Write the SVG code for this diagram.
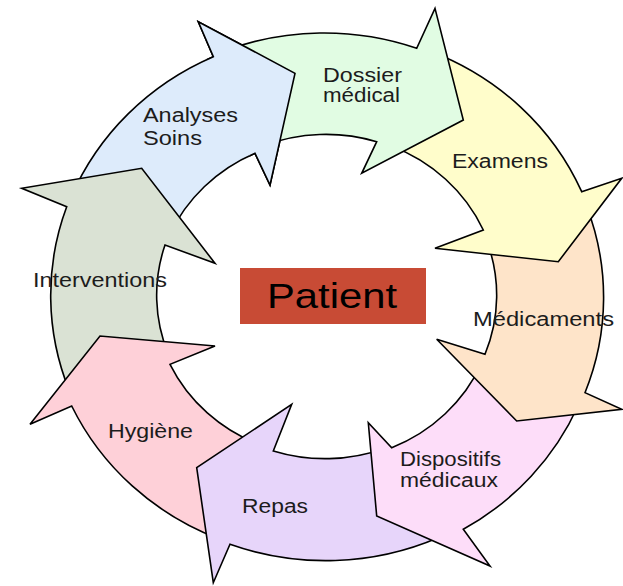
<svg xmlns="http://www.w3.org/2000/svg" xmlns:xlink="http://www.w3.org/1999/xlink" width="623" height="586" viewBox="0 0 623 586">
<style>
.seg{stroke:#000;stroke-width:1.6;stroke-linejoin:miter}
.lbl{font-family:"Liberation Sans",Arial,sans-serif;font-size:20px;fill:#1c1c1c}
.big{font-family:"Liberation Sans",Arial,sans-serif;font-size:35px;fill:#000}
</style>
<defs>
<clipPath id="clipA"><polygon points="190,0 330,0 330,200 255,200 242,100 190,40"/></clipPath>
</defs>
<rect width="623" height="586" fill="#fff"/>
<g id="nodes">
<g id="analyses">
<path id="shapeA" class="seg" fill="#DDEBFB" d="M71.1,197.1 A276,264 0 0 1 213.3,56.7 L198.3,21.7 L295,73.3 L270,185 L255,153.3 A170,162 0 0 0 169.4,235.3 Z"/>
<text class="lbl" x="143" y="122" textLength="95" lengthAdjust="spacingAndGlyphs">Analyses</text>
<text class="lbl" x="143" y="145" textLength="59" lengthAdjust="spacingAndGlyphs">Soins</text>
</g>
<g id="interventions">
<path class="seg" fill="#DAE2D4" d="M69.3,390.6 A276,264 0 0 1 66.7,206.7 L21.7,188.3 L141.7,168.3 L215,263.3 L165,245 A170,162 0 0 0 168.3,354.1 Z"/>
<text class="lbl" x="33" y="287" textLength="134" lengthAdjust="spacingAndGlyphs">Interventions</text>
</g>
<g id="hygiene">
<path class="seg" fill="#FED0D8" d="M219.2,539 A276,264 0 0 1 71.7,406 L30,424.3 L100,336 L215,346 L170,364.3 A170,162 0 0 0 260.6,445.1 Z"/>
<text class="lbl" x="108" y="438" textLength="85" lengthAdjust="spacingAndGlyphs">Hygiène</text>
</g>
<g id="repas">
<path class="seg" fill="#E7D5FA" d="M439.3,537.2 A276,264 0 0 1 230,544.3 L213.3,582.7 L196.7,467.7 L291.7,404.3 L273.3,451 A170,162 0 0 0 385.1,448.2 Z"/>
<text class="lbl" x="242" y="513" textLength="66" lengthAdjust="spacingAndGlyphs">Repas</text>
</g>
<g id="dispositifs">
<path class="seg" fill="#FDDDF9" d="M578.2,405.5 A276,264 0 0 1 463.3,529.3 L490,566 L376.7,516 L368.3,422.7 L391.7,447.7 A170,162 0 0 0 481.7,363.2 Z"/>
<text class="lbl" x="400" y="466" textLength="101" lengthAdjust="spacingAndGlyphs">Dispositifs</text>
<text class="lbl" x="400" y="487" textLength="98" lengthAdjust="spacingAndGlyphs">médicaux</text>
</g>
<g id="medicaments">
<path class="seg" fill="#FEE4C9" d="M586.4,205.7 A276,264 0 0 1 585,392.7 L621.7,409.3 L516.7,421 L436.7,339.3 L485,354.3 A170,162 0 0 0 486.7,240.6 Z"/>
<text class="lbl" x="473" y="326" textLength="141" lengthAdjust="spacingAndGlyphs">Médicaments</text>
</g>
<g id="examens">
<path class="seg" fill="#FFFDCB" d="M430.4,51.2 A276,264 0 0 1 581.7,191.7 L621.7,178.3 L558.3,261.7 L435,248.3 L483.3,230 A170,162 0 0 0 390.7,145.8 Z"/>
<text class="lbl" x="452" y="168" textLength="96" lengthAdjust="spacingAndGlyphs">Examens</text>
</g>
<g id="dossier">
<path class="seg" fill="#E1FCE3" d="M223.6,51.2 A276,264 0 0 1 416.7,48.3 L435,8.3 L463.3,120 L361.7,173.3 L376.7,141.7 A170,162 0 0 0 263.3,145.8 Z"/>
<text class="lbl" x="323" y="82" textLength="79" lengthAdjust="spacingAndGlyphs">Dossier</text>
<text class="lbl" x="323" y="102" textLength="77" lengthAdjust="spacingAndGlyphs">médical</text>
</g>
<g id="analyses-head">
<use xlink:href="#shapeA" href="#shapeA" clip-path="url(#clipA)"/>
</g>
<g id="patient">
<rect x="240" y="268" width="186" height="56" fill="#C84B35"/>
<text class="big" x="267" y="308" textLength="130" lengthAdjust="spacingAndGlyphs">Patient</text>
</g>
</g>
<g id="connectors"/>
</svg>
